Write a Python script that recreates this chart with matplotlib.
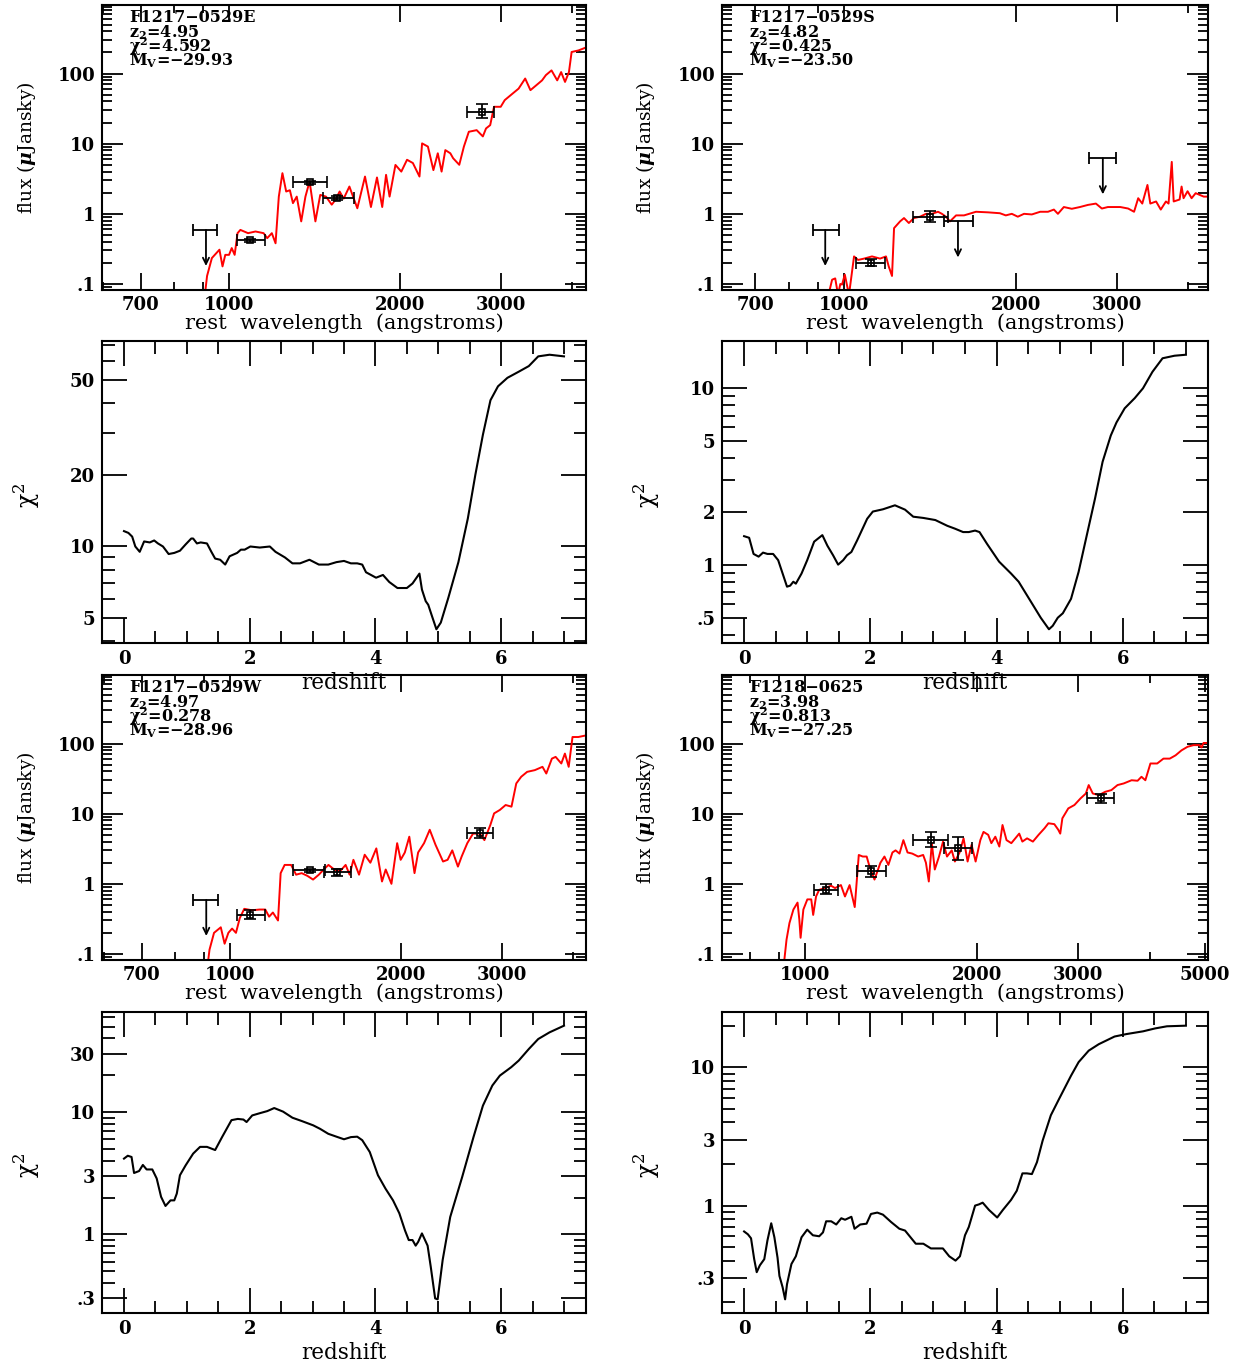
import numpy as np
import matplotlib
matplotlib.use("Agg")
import matplotlib.pyplot as plt
from matplotlib.ticker import FixedLocator, FuncFormatter, NullFormatter, LogLocator
from matplotlib.transforms import offset_copy

plt.rcParams['font.family'] = 'DejaVu Serif'
plt.rcParams['font.weight'] = 'bold'
plt.rcParams['mathtext.fontset'] = 'custom'
plt.rcParams['mathtext.rm'] = 'DejaVu Serif:bold'
plt.rcParams['mathtext.it'] = 'DejaVu Serif:italic:bold'
plt.rcParams['mathtext.bf'] = 'DejaVu Serif:bold'
plt.rcParams['mathtext.default'] = 'regular'

# ---------------- F1217-0529E ----------------
e_name, e_zbest, e_chibest, e_mv = "F1217\u22120529E", "4.95", "4.592", "\u221229.93"
e_wave = [905, 915, 933, 962, 974, 985, 1000, 1011, 1023, 1035, 1047, 1080, 1113, 1150, 1167,
          1189, 1207, 1223, 1241, 1260, 1279, 1295, 1315, 1339, 1362, 1385, 1418, 1446, 1480,
          1515, 1539, 1564, 1590, 1627, 1680, 1733, 1775, 1819, 1858, 1887, 1914, 1960, 2007,
          2054, 2103, 2160, 2183, 2235, 2285, 2326, 2362, 2398, 2447, 2475, 2537, 2585, 2637,
          2722, 2791, 2827, 2875, 2920, 3000, 3049, 3149, 3225, 3312, 3383, 3463, 3546, 3601,
          3684, 3770, 3830, 3891, 3953, 3996, 4110, 4260]
e_flux = [0.06, 0.13, 0.234, 0.308, 0.178, 0.26, 0.26, 0.325, 0.26, 0.53, 0.59, 0.53, 0.56, 0.53,
          0.45, 0.53, 0.38, 1.76, 3.8, 2.08, 2.17, 1.42, 1.76, 0.78, 1.76, 2.9, 0.78, 1.86, 1.76,
          1.35, 1.6, 2.08, 1.65, 2.45, 1.2, 3.4, 1.25, 3.3, 1.25, 3.6, 1.76, 4.98, 4.0, 5.9, 5.3,
          3.4, 10.1, 9.1, 4.2, 7.3, 4.0, 8.1, 7.3, 6.2, 5.0, 9.1, 14.8, 15.6, 12.7, 16.5, 18.4,
          33.6, 33.6, 41.8, 52, 61, 85, 58, 68, 80, 95, 111, 80, 105, 76, 105, 203, 214, 240]
e_pt_wave = [1089, 1388, 1547, 2780]
e_pt_wlo = [1031, 1297, 1461, 2617]
e_pt_whi = [1155, 1488, 1656, 2917]
e_pt_flux = [0.42, 2.8, 1.7, 28.5]
e_pt_flo = [0.40, 2.65, 1.6, 22.9]
e_pt_fhi = [0.44, 2.95, 1.8, 37.4]
e_ul_wave = [911]
e_ul_wlo = [863]
e_ul_whi = [953]
e_ul_flux = [0.59]
e_z = [0, 0.07, 0.13, 0.18, 0.25, 0.32, 0.41, 0.48, 0.54, 0.62, 0.71, 0.8, 0.89, 0.98, 1.07, 1.1,
       1.16, 1.22, 1.32, 1.39, 1.45, 1.53, 1.61, 1.68, 1.8, 1.86, 1.92, 2.01, 2.16, 2.32, 2.41,
       2.56, 2.68, 2.8, 2.95, 3.1, 3.25, 3.38, 3.5, 3.61, 3.71, 3.79, 3.85, 4.01, 4.12, 4.22,
       4.35, 4.5, 4.59, 4.7, 4.74, 4.8, 4.84, 4.89, 4.97, 5.04, 5.16, 5.32, 5.47, 5.59, 5.71,
       5.83, 5.95, 6.1, 6.28, 6.44, 6.59, 6.77, 7.0]
e_chi2 = [11.6, 11.4, 11.0, 10.0, 9.5, 10.5, 10.4, 10.6, 10.3, 10.0, 9.3, 9.4, 9.6, 10.2, 10.8,
          10.8, 10.3, 10.4, 10.3, 9.5, 8.9, 8.8, 8.4, 9.1, 9.4, 9.7, 9.7, 10.0, 9.9, 10.0, 9.5,
          9.0, 8.5, 8.5, 8.8, 8.4, 8.4, 8.6, 8.7, 8.5, 8.5, 8.4, 7.8, 7.4, 7.6, 7.1, 6.7, 6.7,
          7.0, 7.7, 6.6, 5.9, 5.7, 5.2, 4.5, 4.8, 6.1, 8.6, 13.1, 20.0, 29.4, 41, 46.9, 50.9, 54,
          57, 62.6, 63.6, 62.6]
e_chi_ticks = [5, 10, 20, 50]

# ---------------- F1217-0529S ----------------
s_name, s_zbest, s_chibest, s_mv = "F1217\u22120529S", "4.82", "0.425", "\u221223.50"
s_wave = [935, 953, 965, 976, 985, 992, 1003, 1020, 1041, 1058, 1084, 1119, 1156, 1184, 1197,
          1213, 1223, 1253, 1273, 1298, 1325, 1358, 1391, 1425, 1460, 1483, 1507, 1532, 1570,
          1621, 1701, 1785, 1873, 1918, 1965, 2013, 2064, 2130, 2203, 2273, 2328, 2366, 2423,
          2502, 2585, 2670, 2757, 2824, 2893, 3042, 3139, 3215, 3269, 3323, 3393, 3432, 3513,
          3580, 3655, 3694, 3742, 3771, 3862, 3893, 3924, 3988, 4053, 4120, 4256, 4350]
s_flux = [0.06, 0.115, 0.12, 0.07, 0.1, 0.098, 0.136, 0.07, 0.247, 0.22, 0.23, 0.247, 0.23, 0.247,
          0.178, 0.13, 0.625, 0.78, 0.87, 0.74, 0.87, 0.91, 1.0, 1.0, 1.07, 1.0, 0.91, 0.78, 0.95,
          0.95, 1.07, 1.05, 1.02, 0.95, 1.0, 0.91, 1.0, 0.98, 1.07, 1.07, 1.15, 1.0, 1.25, 1.18,
          1.25, 1.34, 1.4, 1.19, 1.25, 1.25, 1.19, 1.07, 1.67, 1.4, 2.58, 1.4, 1.5, 1.15, 1.5,
          1.4, 5.5, 1.5, 1.6, 2.45, 1.67, 2.1, 1.67, 1.97, 1.76, 1.76]
s_pt_wave = [1114, 1413]
s_pt_wlo = [1049, 1319]
s_pt_whi = [1180, 1520]
s_pt_flux = [0.2, 0.9]
s_pt_flo = [0.18, 0.76]
s_pt_fhi = [0.23, 1.1]
s_ul_wave = [927, 1582, 2835]
s_ul_wlo = [884, 1496, 2683]
s_ul_whi = [978, 1679, 2989]
s_ul_flux = [0.59, 0.78, 6.2]
s_z = [0, 0.08, 0.15, 0.23, 0.3, 0.37, 0.46, 0.54, 0.62, 0.68, 0.73, 0.78, 0.82, 0.91, 1.0, 1.11,
       1.24, 1.32, 1.41, 1.49, 1.57, 1.63, 1.7, 1.79, 1.95, 2.04, 2.2, 2.39, 2.55, 2.68, 2.84,
       3.03, 3.22, 3.34, 3.47, 3.56, 3.66, 3.73, 3.85, 4.04, 4.23, 4.35, 4.54, 4.7, 4.83, 4.89,
       4.97, 5.05, 5.18, 5.3, 5.43, 5.56, 5.68, 5.81, 5.9, 6.03, 6.19, 6.32, 6.47, 6.63, 6.82, 7.0]
s_chi2 = [1.45, 1.42, 1.15, 1.11, 1.17, 1.15, 1.15, 1.06, 0.87, 0.75, 0.76, 0.8, 0.78, 0.89, 1.06,
          1.35, 1.47, 1.28, 1.13, 1.0, 1.06, 1.13, 1.18, 1.37, 1.82, 2.0, 2.06, 2.17, 2.05, 1.87,
          1.84, 1.79, 1.66, 1.6, 1.53, 1.53, 1.56, 1.53, 1.31, 1.04, 0.89, 0.8, 0.62, 0.5, 0.43,
          0.45, 0.5, 0.53, 0.64, 0.91, 1.47, 2.37, 3.83, 5.4, 6.4, 7.7, 8.8, 10.0, 12.4, 14.8,
          15.3, 15.5]
s_chi_ticks = [0.5, 1, 2, 5, 10]

# ---------------- F1217-0529W ----------------
w_name, w_zbest, w_chibest, w_mv = "F1217\u22120529W", "4.97", "0.278", "\u221228.96"
w_wave = [912, 921, 938, 964, 979, 994, 1009, 1025, 1041, 1060, 1093, 1128, 1154, 1172, 1190,
          1215, 1228, 1248, 1281, 1307, 1337, 1368, 1400, 1433, 1467, 1490, 1525, 1560, 1597,
          1623, 1648, 1686, 1725, 1765, 1808, 1850, 1878, 1922, 1967, 1995, 2029, 2066, 2110,
          2141, 2193, 2244, 2297, 2368, 2412, 2458, 2515, 2553, 2612, 2673, 2748, 2799, 2867,
          2911, 2979, 3050, 3123, 3184, 3248, 3327, 3432, 3540, 3595, 3677, 3733, 3820, 3876,
          3936, 3997, 4092, 4207]
w_flux = [0.06, 0.115, 0.2, 0.24, 0.14, 0.2, 0.23, 0.2, 0.325, 0.44, 0.42, 0.43, 0.43, 0.34, 0.39,
          0.30, 1.42, 1.86, 1.86, 1.35, 1.42, 1.3, 1.15, 1.35, 1.65, 1.86, 1.6, 1.5, 1.86, 1.35,
          2.2, 1.35, 2.6, 2.0, 3.2, 1.08, 1.6, 1.0, 3.8, 2.2, 2.8, 4.7, 1.42, 2.8, 3.8, 5.9, 3.6,
          2.08, 2.2, 3.0, 1.76, 2.45, 3.8, 5.2, 5.2, 4.2, 6.9, 10.1, 11.3, 13.3, 12.6, 27, 33.6,
          39.5, 41.8, 46.6, 37.4, 61, 64.6, 52, 72, 46.6, 124, 124, 130]
w_pt_wave = [1085, 1383, 1541, 2754]
w_pt_wlo = [1028, 1292, 1463, 2605]
w_pt_whi = [1155, 1467, 1634, 2903]
w_pt_flux = [0.363, 1.55, 1.48, 5.25]
w_pt_flo = [0.31, 1.48, 1.3, 4.45]
w_pt_fhi = [0.42, 1.62, 1.65, 6.2]
w_ul_wave = [909]
w_ul_wlo = [861]
w_ul_whi = [955]
w_ul_flux = [0.59]
w_z = [0, 0.06, 0.12, 0.16, 0.24, 0.3, 0.36, 0.45, 0.52, 0.59, 0.66, 0.74, 0.8, 0.84, 0.89, 0.98,
       1.1, 1.21, 1.32, 1.45, 1.56, 1.71, 1.81, 1.9, 1.95, 2.04, 2.16, 2.28, 2.39, 2.53, 2.68,
       2.83, 3.01, 3.12, 3.25, 3.38, 3.5, 3.61, 3.71, 3.79, 3.91, 4.04, 4.16, 4.28, 4.38, 4.47,
       4.53, 4.59, 4.64, 4.68, 4.74, 4.83, 4.88, 4.95, 4.99, 5.07, 5.19, 5.38, 5.56, 5.71, 5.86,
       5.98, 6.16, 6.28, 6.44, 6.59, 6.77, 7.0]
w_chi2 = [4.17, 4.4, 4.3, 3.18, 3.3, 3.7, 3.4, 3.4, 2.87, 2.03, 1.71, 1.9, 1.9, 2.16, 3.05, 3.67,
          4.58, 5.2, 5.2, 4.9, 6.25, 8.6, 8.8, 8.7, 8.3, 9.4, 9.8, 10.2, 10.8, 10.1, 9.0, 8.45,
          7.8, 7.3, 6.65, 6.3, 6.0, 6.25, 6.3, 5.9, 4.72, 3.05, 2.37, 1.9, 1.49, 1.08, 0.9, 0.9,
          0.81, 0.87, 1.02, 0.81, 0.545, 0.3, 0.295, 0.62, 1.39, 2.95, 6.25, 11.3, 16.5, 19.9,
          23.3, 26.4, 32.8, 39.6, 44.9, 50.9]
w_chi_ticks = [0.3, 1, 3, 10, 30]

# ---------------- F1218-0625 ----------------
f_name, f_zbest, f_chibest, f_mv = "F1218\u22120625", "3.98", "0.813", "\u221227.25"
f_wave = [915, 927, 938, 953, 969, 976, 981, 992, 1008, 1024, 1032, 1044, 1057, 1083, 1109, 1127,
          1154, 1173, 1195, 1220, 1240, 1260, 1280, 1294, 1321, 1353, 1375, 1397, 1420, 1438,
          1461, 1484, 1509, 1538, 1575, 1607, 1625, 1644, 1664, 1684, 1713, 1741, 1769, 1803,
          1826, 1861, 1891, 1922, 1953, 1985, 2023, 2049, 2088, 2115, 2149, 2184, 2212, 2248,
          2292, 2329, 2366, 2396, 2442, 2500, 2558, 2620, 2661, 2725, 2769, 2791, 2815, 2883,
          2955, 3028, 3094, 3130, 3182, 3262, 3344, 3429, 3515, 3604, 3720, 3811, 3871, 3932,
          4013, 4124, 4229, 4338, 4441, 4548, 4660, 4774, 4891, 4930, 4970, 5080]
f_flux = [0.06, 0.16, 0.276, 0.43, 0.54, 0.31, 0.17, 0.43, 0.6, 0.6, 0.36, 0.66, 0.82, 0.87, 0.94,
          0.87, 0.96, 0.66, 0.96, 0.466, 2.58, 2.45, 2.45, 1.8, 1.15, 2.0, 2.45, 1.86, 2.8, 3.0,
          2.7, 4.2, 2.8, 2.7, 2.45, 2.58, 2.0, 1.08, 3.8, 1.6, 2.45, 4.0, 2.45, 3.0, 2.08, 2.8,
          4.45, 2.08, 3.6, 2.08, 4.2, 5.5, 5.0, 3.8, 4.7, 3.4, 6.9, 4.2, 3.8, 4.45, 5.2, 4.0,
          4.45, 4.0, 5.0, 6.2, 7.3, 7.1, 5.9, 5.2, 8.6, 11.9, 13.3, 16.5, 19.4, 25.6, 19.4, 18.4,
          20.5, 21.7, 25.6, 27, 30, 29.5, 33.6, 30, 52, 52, 61, 61, 68, 80, 90, 95, 95, 88, 102,
          102]
f_pt_wave = [1088, 1305, 1657, 1846, 3283]
f_pt_wlo = [1037, 1230, 1542, 1745, 3113]
f_pt_whi = [1141, 1382, 1774, 1958, 3465]
f_pt_flux = [0.82, 1.5, 4.2, 3.2, 16.9]
f_pt_flo = [0.71, 1.25, 3.3, 2.2, 14.3]
f_pt_fhi = [0.99, 1.8, 5.4, 4.7, 19.4]
f_ul_wave = []
f_ul_wlo = []
f_ul_whi = []
f_ul_flux = []
f_z = [0, 0.06, 0.11, 0.16, 0.2, 0.25, 0.32, 0.37, 0.43, 0.48, 0.53, 0.56, 0.61, 0.65, 0.68, 0.75,
       0.82, 0.91, 1.0, 1.09, 1.19, 1.25, 1.3, 1.38, 1.46, 1.54, 1.6, 1.7, 1.75, 1.84, 1.94,
       2.01, 2.11, 2.2, 2.33, 2.46, 2.55, 2.65, 2.72, 2.84, 2.96, 3.06, 3.15, 3.25, 3.35, 3.42,
       3.5, 3.56, 3.66, 3.72, 3.78, 3.88, 4.01, 4.1, 4.23, 4.32, 4.41, 4.48, 4.56, 4.64, 4.73,
       4.86, 4.99, 5.18, 5.3, 5.46, 5.62, 5.87, 6.06, 6.32, 6.51, 6.7, 7.0]
f_chi2 = [0.65, 0.62, 0.58, 0.41, 0.33, 0.37, 0.41, 0.56, 0.745, 0.59, 0.42, 0.31, 0.257, 0.21,
          0.27, 0.378, 0.43, 0.59, 0.67, 0.61, 0.60, 0.64, 0.77, 0.77, 0.73, 0.81, 0.79, 0.83,
          0.68, 0.73, 0.74, 0.87, 0.89, 0.86, 0.76, 0.68, 0.66, 0.58, 0.53, 0.53, 0.49, 0.49,
          0.49, 0.43, 0.4, 0.43, 0.61, 0.70, 1.0, 1.02, 1.05, 0.93, 0.82, 0.93, 1.1, 1.28, 1.71,
          1.71, 1.69, 2.06, 2.95, 4.5, 5.9, 8.7, 10.9, 13.2, 14.7, 16.7, 17.4, 18.2, 19.1, 19.8,
          20.0]
f_chi_ticks = [0.3, 1, 3, 10]

# observed-frame window of the photometry, shifted to rest frame per object
obs_lo, obs_hi = 3560.0, 25200.0
sed_ylim = (0.082, 950)
wave_major = [700, 1000, 2000, 3000, 5000]
wave_minor = [600, 800, 900, 4000, 6000]
flux_major = [0.1, 1, 10, 100]


def sm_label(v, pos=None):
    s = '%g' % v
    if s.startswith('0.'):
        s = s[1:]
    return s


def frame(ax):
    ax.set_facecolor('none')
    for sp in ax.spines.values():
        sp.set_linewidth(1.5)
    ax.tick_params(which='both', direction='in', top=True, right=True, width=1.3,
                   labelsize=13, pad=5)
    ax.tick_params(which='major', length=12)
    ax.tick_params(which='minor', length=6)


def sed_panel(ax, name, zb, chib, mv, wave, flux, pw, pwlo, pwhi, pf, pflo, pfhi,
              uw, uwlo, uwhi, uf):
    frame(ax)
    ax.set_xscale('log')
    ax.set_yscale('log')
    z = float(zb)
    ax.set_xlim(obs_lo / (1 + z), obs_hi / (1 + z))
    ax.set_ylim(*sed_ylim)
    ax.xaxis.set_major_locator(FixedLocator(wave_major))
    ax.xaxis.set_minor_locator(FixedLocator(wave_minor))
    ax.xaxis.set_major_formatter(FuncFormatter(sm_label))
    ax.xaxis.set_minor_formatter(NullFormatter())
    ax.yaxis.set_major_locator(FixedLocator(flux_major))
    ax.yaxis.set_minor_locator(LogLocator(subs=np.arange(2, 10), numticks=20))
    ax.yaxis.set_major_formatter(FuncFormatter(sm_label))
    ax.yaxis.set_minor_formatter(NullFormatter())
    ax.tick_params(axis='y', which='major', length=15)
    ax.tick_params(axis='y', which='minor', length=7)
    ax.tick_params(axis='x', pad=4)

    ax.plot(wave, flux, color='#ff0000', lw=1.4, zorder=2)

    pw, pf = np.array(pw), np.array(pf)
    ax.errorbar(pw, pf, xerr=[pw - np.array(pwlo), np.array(pwhi) - pw],
                yerr=[pf - np.array(pflo), np.array(pfhi) - pf],
                fmt='s', ms=5, mfc='none', mec='k', mew=1.2, ecolor='k',
                elinewidth=1.3, capsize=4, capthick=1.3, zorder=3)
    if len(uw):
        uw, uf = np.array(uw), np.array(uf)
        ax.errorbar(uw, uf, xerr=[uw - np.array(uwlo), np.array(uwhi) - uw], fmt='none',
                    ecolor='k', elinewidth=1.3, capsize=4, capthick=1.3, zorder=3)
        down = offset_copy(ax.transData, fig=ax.figure, x=0, y=-26, units='points')
        for x, y in zip(uw, uf):
            ax.annotate('', xy=(x, y), xycoords=down, xytext=(x, y), textcoords='data',
                        arrowprops=dict(arrowstyle='->,head_length=0.45,head_width=0.22',
                                        color='k', lw=1.3, shrinkA=0, shrinkB=0))

    ax.set_xlabel('rest  wavelength  (angstroms)', fontsize=15)
    ax.xaxis.set_label_coords(0.5, -33 / 285)
    ax.xaxis.label.set_va('center')
    ax.set_ylabel(r'flux ($\mathit{\mu}$Jansky)', fontsize=13.5)
    ax.yaxis.set_label_coords(-76 / 484, 0.5)
    ax.yaxis.label.set_va('center')

    lines = [name, 'z$_2$=' + zb, '\u03c7$^2$=' + chib, 'M$_V$=' + mv]
    for i, t in enumerate(lines):
        ax.text(27 / 484, 1 - (13 + 14.3 * i) / 285, t, transform=ax.transAxes,
                fontsize=11.5, ha='left', va='center')


def chi_panel(ax, z, chi2, ticks):
    frame(ax)
    ax.set_yscale('log')
    ax.plot(z, chi2, color='k', lw=1.5)
    ax.set_xlim(-0.35, 7.35)
    lo, hi = np.log10(min(chi2)), np.log10(max(chi2))
    pad = 0.05 * (hi - lo)
    ax.set_ylim(10 ** (lo - pad), 10 ** (hi + pad))
    ax.xaxis.set_major_locator(FixedLocator([0, 2, 4, 6]))
    ax.xaxis.set_minor_locator(FixedLocator(np.arange(0, 7.01, 0.5)))
    ax.xaxis.set_major_formatter(FuncFormatter(sm_label))
    ax.yaxis.set_major_locator(FixedLocator(ticks))
    ax.yaxis.set_minor_locator(LogLocator(subs=np.arange(2, 10), numticks=20))
    ax.yaxis.set_major_formatter(FuncFormatter(sm_label))
    ax.yaxis.set_minor_formatter(NullFormatter())
    ax.tick_params(which='major', length=18)
    ax.tick_params(which='minor', length=9)
    ax.set_xlabel('redshift', fontsize=15.5)
    ax.xaxis.set_label_coords(0.5, -40 / 302)
    ax.xaxis.label.set_va('center')
    ax.set_ylabel('\u03c7$^2$', fontsize=17)
    ax.yaxis.set_label_coords(-75 / 484, 0.49)
    ax.yaxis.label.set_va('center')


fig = plt.figure(figsize=(12.42, 13.69), dpi=100)
W, H = 1242.0, 1369.0


def box(x0, x1, y0, y1):
    return [x0 / W, 1 - y1 / H, (x1 - x0) / W, (y1 - y0) / H]


ax = fig.add_axes(box(102, 586, 5, 290))
sed_panel(ax, e_name, e_zbest, e_chibest, e_mv, e_wave, e_flux, e_pt_wave, e_pt_wlo, e_pt_whi,
          e_pt_flux, e_pt_flo, e_pt_fhi, e_ul_wave, e_ul_wlo, e_ul_whi, e_ul_flux)
ax = fig.add_axes(box(722, 1208, 5, 290))
sed_panel(ax, s_name, s_zbest, s_chibest, s_mv, s_wave, s_flux, s_pt_wave, s_pt_wlo, s_pt_whi,
          s_pt_flux, s_pt_flo, s_pt_fhi, s_ul_wave, s_ul_wlo, s_ul_whi, s_ul_flux)
ax = fig.add_axes(box(102, 586, 341, 643))
chi_panel(ax, e_z, e_chi2, e_chi_ticks)
ax = fig.add_axes(box(722, 1208, 341, 643))
chi_panel(ax, s_z, s_chi2, s_chi_ticks)
ax = fig.add_axes(box(102, 586, 675, 960))
sed_panel(ax, w_name, w_zbest, w_chibest, w_mv, w_wave, w_flux, w_pt_wave, w_pt_wlo, w_pt_whi,
          w_pt_flux, w_pt_flo, w_pt_fhi, w_ul_wave, w_ul_wlo, w_ul_whi, w_ul_flux)
ax = fig.add_axes(box(722, 1208, 675, 960))
sed_panel(ax, f_name, f_zbest, f_chibest, f_mv, f_wave, f_flux, f_pt_wave, f_pt_wlo, f_pt_whi,
          f_pt_flux, f_pt_flo, f_pt_fhi, f_ul_wave, f_ul_wlo, f_ul_whi, f_ul_flux)
ax = fig.add_axes(box(102, 586, 1012, 1313))
chi_panel(ax, w_z, w_chi2, w_chi_ticks)
ax = fig.add_axes(box(722, 1208, 1012, 1313))
chi_panel(ax, f_z, f_chi2, f_chi_ticks)

fig.savefig('out.png', dpi=100, facecolor='white')
